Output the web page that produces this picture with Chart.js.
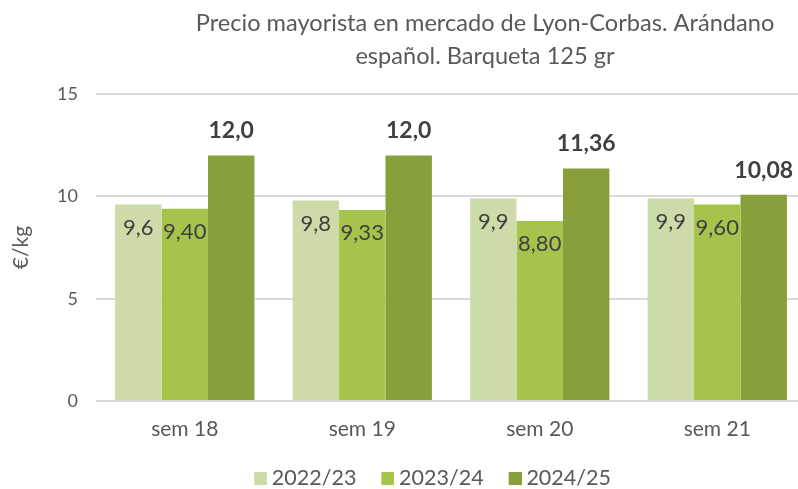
<!DOCTYPE html>
<html>
<head>
<meta charset="utf-8">
<script src="https://cdn.jsdelivr.net/npm/chart.js@4.4.0/dist/chart.umd.min.js"></script>
<style>
  html, body { margin: 0; padding: 0; background: #fff; overflow: hidden; }
</style>
</head>
<body>
<canvas id="chart" width="806" height="499"></canvas>
<script>
// data
const weeks = ['sem 18', 'sem 19', 'sem 20', 'sem 21'];
const seasons = ['2022/23', '2023/24', '2024/25'];
const s2223 = [9.6, 9.8, 9.9, 9.9];
const s2324 = [9.40, 9.33, 8.80, 9.60];
const s2425 = [12.0, 12.0, 11.36, 10.08];
const text2223 = ['9,6', '9,8', '9,9', '9,9'];
const text2324 = ['9,40', '9,33', '8,80', '9,60'];
const text2425 = ['12,0', '12,0', '11,36', '10,08'];
const yTicks = [0, 5, 10, 15];

const colors = ['#cddba9', '#a6c34b', '#87a03b'];
const FONT = 'Lato';
const GREY = '#595959';

// legend marker: 13px square at the right end of a wider transparent image,
// so the gap to the text is small and the gap between items is wide
function swatch(color) {
    const c = document.createElement('canvas');
    c.width = 34;
    c.height = 13;
    const g = c.getContext('2d');
    g.fillStyle = color;
    g.fillRect(21, 0, 13, 13);
    return c;
}

// value labels: first two series inside the bar top, last one bold above
const valueLabels = {
    id: 'valueLabels',
    afterDatasetsDraw(chart) {
        const ctx = chart.ctx;
        const texts = [text2223, text2324, text2425];
        ctx.save();
        ctx.textAlign = 'center';
        ctx.textBaseline = 'middle';
        ctx.fillStyle = '#404040';
        chart.data.datasets.forEach((ds, i) => {
            chart.getDatasetMeta(i).data.forEach((bar, j) => {
                if (i === 2) {
                    ctx.font = 'bold 23px ' + FONT;
                    ctx.fillText(texts[i][j], bar.x, bar.y - 24.5);
                } else {
                    ctx.font = '22px ' + FONT;
                    ctx.fillText(texts[i][j], bar.x, bar.y + 23);
                }
            });
        });
        ctx.restore();
    }
};

// title and legend are not centred on the canvas in the original
const shiftBoxes = {
    id: 'shiftBoxes',
    afterLayout(chart) {
        const t = chart.titleBlock;
        if (t) { t.left += 82; t.right += 82; }
        const l = chart.legend;
        if (l) { l.left += 22; l.right += 22; }
    }
};

new Chart(document.getElementById('chart'), {
    type: 'bar',
    data: {
        labels: weeks,
        datasets: [
            { label: seasons[0], data: s2223, backgroundColor: colors[0] },
            { label: seasons[1], data: s2324, backgroundColor: colors[1] },
            { label: seasons[2], data: s2425, backgroundColor: colors[2] }
        ]
    },
    options: {
        responsive: false,
        animation: false,
        layout: { padding: 0 },
        datasets: {
            bar: { categoryPercentage: 0.785, barPercentage: 1, borderWidth: 0 }
        },
        scales: {
            x: {
                grid: { display: false },
                border: { display: false },
                ticks: { color: GREY, font: { family: FONT, size: 21 }, padding: 8 },
                afterFit(scale) { scale.height = 56.5; }
            },
            y: {
                min: 0,
                max: 15,
                afterBuildTicks(scale) { scale.ticks = yTicks.map(v => ({ value: v })); },
                grid: { color: '#d9d9d9', lineWidth: 2, drawTicks: false },
                border: { display: false },
                ticks: { color: GREY, font: { family: FONT, size: 18 }, padding: 18 },
                title: {
                    display: true,
                    text: '€/kg',
                    color: GREY,
                    font: { family: FONT, size: 21 },
                    padding: { top: 9, bottom: 0 }
                },
                afterFit(scale) { scale.width = 96; }
            }
        },
        plugins: {
            title: {
                display: true,
                text: ['Precio mayorista en mercado de Lyon-Corbas. Arándano', 'español. Barqueta 125 gr'],
                color: GREY,
                font: { family: FONT, size: 23.6, weight: 'normal', lineHeight: 1.4 },
                padding: { top: 7, bottom: 21 }
            },
            legend: {
                position: 'bottom',
                labels: {
                    usePointStyle: true,
                    pointStyleWidth: 22,
                    boxHeight: 13,
                    padding: 10,
                    color: GREY,
                    font: { family: FONT, size: 21.5 },
                    generateLabels(chart) {
                        const items = Chart.defaults.plugins.legend.labels.generateLabels(chart);
                        items.forEach((it, i) => { it.pointStyle = swatch(colors[i]); });
                        return items;
                    }
                }
            },
            tooltip: { enabled: false }
        }
    },
    plugins: [valueLabels, shiftBoxes]
});
</script>
</body>
</html>
